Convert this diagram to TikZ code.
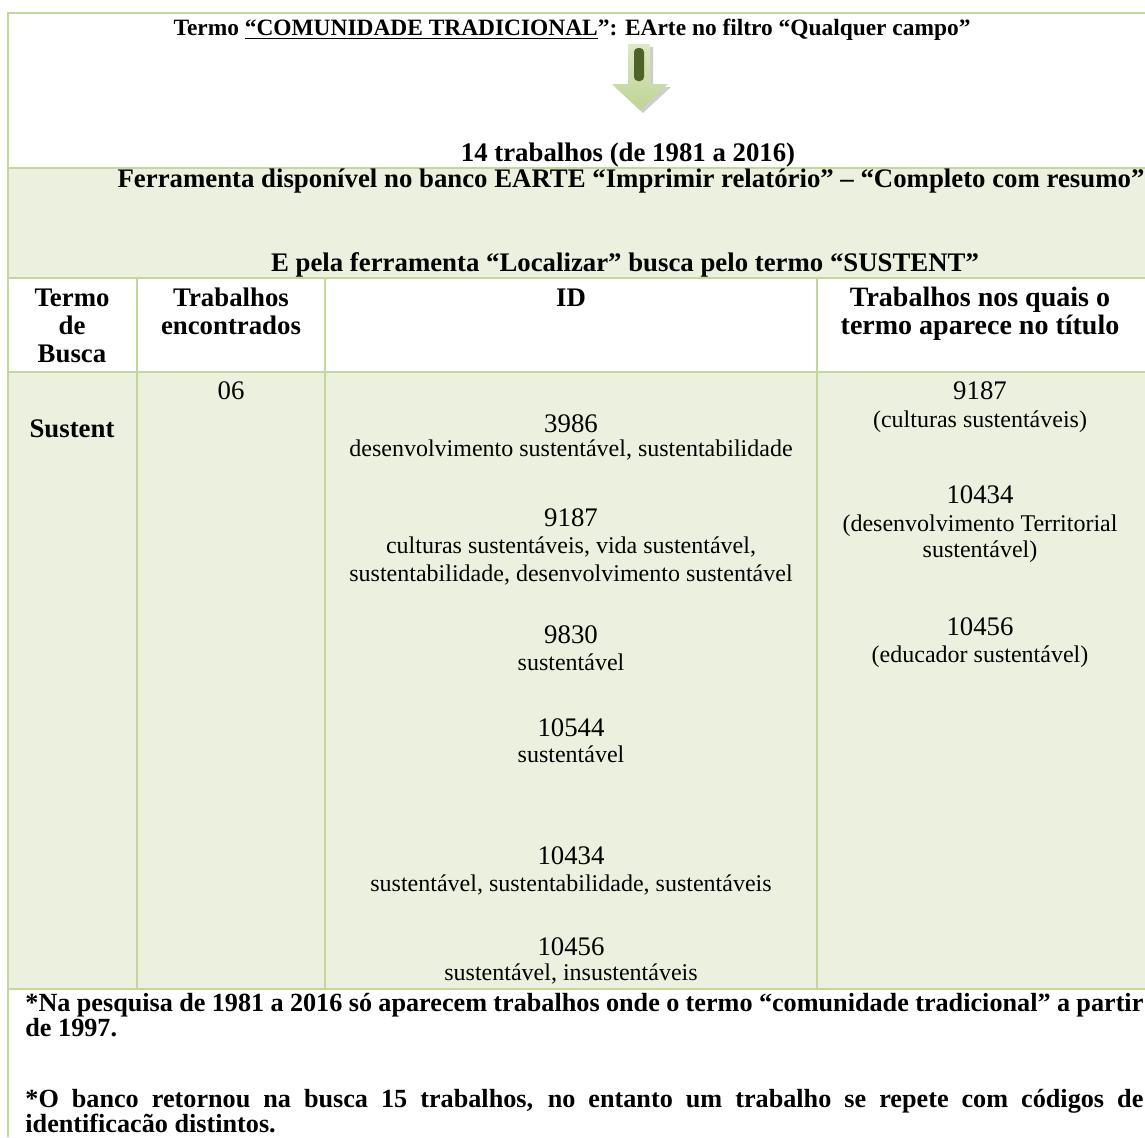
\documentclass[tikz,border=0pt]{standalone}
\usepackage{fontspec}
\setmainfont{Liberation Serif}
\definecolor{bgreen}{RGB}{195,214,155}
\definecolor{fgreen}{RGB}{235,241,222}
\definecolor{dgreen}{RGB}{79,98,40}
\definecolor{agreen}{RGB}{190,211,148}
\definecolor{alight}{RGB}{221,232,198}
\begin{document}
\begin{tikzpicture}[x=0.5pt,y=-0.5pt,
  bt/.style={font=\fontsize{13.4}{15}\selectfont\bfseries, inner sep=0pt, anchor=base},
  ft/.style={font=\fontsize{13.1}{15}\selectfont\bfseries, inner sep=0pt, anchor=base west},
  kw/.style={font=\fontsize{12}{14}\selectfont, inner sep=0pt, anchor=base},
  nm/.style={font=\fontsize{13.4}{15}\selectfont, inner sep=0pt, anchor=base},
  rule/.style={draw=bgreen, line width=1.25pt}]
\useasboundingbox (0,0) rectangle (1145,1137);
\fill[white] (0,0) rectangle (1145,1137);
\fill[fgreen] (8,168) rectangle (1145,278);
\fill[fgreen] (8,372) rectangle (1145,989);
% table rules
\draw[rule] (8,13) -- (1145,13);
\draw[rule] (8,168) -- (1145,168);
\draw[rule] (8,278) -- (1145,278);
\draw[rule] (8,372) -- (1145,372);
\draw[rule] (8,989) -- (1145,989);
\draw[rule] (8,12) -- (8,1137);
\draw[rule] (137,278) -- (137,989);
\draw[rule] (325,278) -- (325,989);
\draw[rule] (817,278) -- (817,989);
% arrow
\fill[gray!55, opacity=0.7] (631,47) -- (653,47) -- (653,87) -- (671,87) -- (643,113) -- (615,87) -- (631,87) -- cycle;
\shade[top color=alight, bottom color=agreen] (628,44) -- (650,44) -- (650,84) -- (668,84) -- (640,110) -- (612,84) -- (628,84) -- cycle;
\fill[dgreen, rounded corners=2pt] (634,48) rectangle (644,81);
% title row
\node[bt, font=\fontsize{11.7}{14}\selectfont\bfseries] (title) at (572,35) {Termo \underline{“COMUNIDADE TRADICIONAL}”: EArte no filtro “Qualquer campo”};
\node[bt] (total) at (628,161) {14 trabalhos (de 1981 a 2016)};
\node[bt] (tool1) at (631,187) {Ferramenta disponível no banco EARTE “Imprimir relatório” – “Completo com resumo”};
\node[bt] (tool2) at (625,271) {E pela ferramenta “Localizar” busca pelo termo “SUSTENT”};
% header
\node[bt] (h1a) at (72,306) {Termo};
\node[bt] (h1b) at (72,334) {de};
\node[bt] (h1c) at (72,362) {Busca};
\node[bt] (h2a) at (231,306) {Trabalhos};
\node[bt] (h2b) at (231,334) {encontrados};
\node[bt] (h3) at (571,306) {ID};
\node[bt, font=\fontsize{14}{16}\selectfont\bfseries] (h4a) at (980,306) {Trabalhos nos quais o};
\node[bt, font=\fontsize{14}{16}\selectfont\bfseries] (h4b) at (980,334) {termo aparece no título};
% data row
\node[bt] (term) at (72,437) {Sustent};
\node[nm] (count) at (231,399) {06};
\node[nm] (i1) at (571,432) {3986};
\node[kw] (k1) at (571,456) {desenvolvimento sustentável, sustentabilidade};
\node[nm] (i2) at (571,526) {9187};
\node[kw] (k2a) at (571,553) {culturas sustentáveis, vida sustentável,};
\node[kw] (k2b) at (571,581) {sustentabilidade, desenvolvimento sustentável};
\node[nm] (i3) at (571,643) {9830};
\node[kw] (k3) at (571,670) {sustentável};
\node[nm] (i4) at (571,736) {10544};
\node[kw] (k4) at (571,762) {sustentável};
\node[nm] (i5) at (571,864) {10434};
\node[kw] (k5) at (571,891) {sustentável, sustentabilidade, sustentáveis};
\node[nm] (i6) at (571,955) {10456};
\node[kw] (k6) at (571,980) {sustentável, insustentáveis};
\node[nm] (t1) at (980,399) {9187};
\node[kw] (t1k) at (980,427) {(culturas sustentáveis)};
\node[nm] (t2) at (980,503) {10434};
\node[kw] (t2a) at (980,531) {(desenvolvimento Territorial};
\node[kw] (t2b) at (980,557) {sustentável)};
\node[nm] (t3) at (980,635) {10456};
\node[kw] (t3k) at (980,662) {(educador sustentável)};
% footer
\node[ft] (f1) at (25,1011) {\makebox[559pt][s]{*Na pesquisa de 1981 a 2016 só aparecem trabalhos onde o termo “comunidade tradicional” a partir}};
\node[ft] (f2) at (25,1036) {de 1997.};
\node[ft] (f3) at (25,1107) {\makebox[559pt][s]{*O banco retornou na busca 15 trabalhos, no entanto um trabalho se repete com códigos de}};
\node[ft] (f4) at (25,1132) {identificacão distintos.};
\end{tikzpicture}
\end{document}
